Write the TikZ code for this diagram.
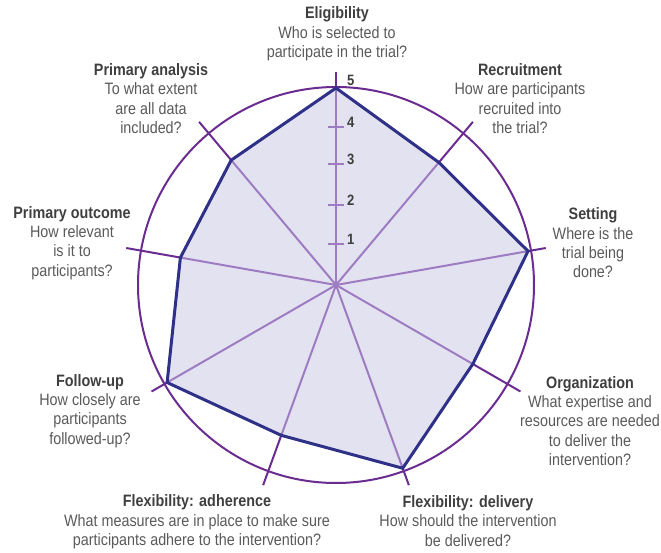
\documentclass[tikz,border=0pt]{standalone}
\usepackage{fontspec}
\setmainfont[FakeStretch=0.87]{Liberation Sans}
\definecolor{darkpurple}{HTML}{6B2C91}
\definecolor{lightpurple}{HTML}{9E7CC1}
\definecolor{navy}{HTML}{2E3187}
\definecolor{lavender}{HTML}{E3E2F0}
\definecolor{titlegray}{HTML}{3F3F3F}
\definecolor{textgray}{HTML}{5A5A5A}
\begin{document}
\begin{tikzpicture}[x=1pt,y=1pt,
  lbl/.style={align=center,inner sep=0pt,text=textgray,font=\fontsize{16.5}{19.4}\selectfont},
  outerspoke/.style={draw=darkpurple,line width=2pt},
  innerspoke/.style={draw=lightpurple,line width=2pt},
  ring/.style={draw=darkpurple,line width=2pt},
  tick/.style={draw=lightpurple,line width=1.6pt},
  num/.style={inner sep=0pt,text=titlegray,font=\fontsize{15}{15}\bfseries\selectfont}]
\useasboundingbox (-336,-267) rectangle (325,285);
\coordinate (c) at (0,0);
% spoke ends
\foreach \n/\a in {1/90,2/50,3/10,4/-30,5/-70,6/-110,7/-150,8/170,9/130}{
  \coordinate (e\n) at (\a:213);
}
% polygon vertices
\foreach \n/\a/\r in {1/90/197,2/50/160,3/10/195,4/-30/158,5/-70/195,6/-110/160,7/-150/195,8/170/158,9/130/163}{
  \coordinate (v\n) at (\a:\r);
}
\foreach \n in {1,...,9}{\draw[outerspoke] (c) -- (e\n);}
\fill[lavender] (v1) -- (v2) -- (v3) -- (v4) -- (v5) -- (v6) -- (v7) -- (v8) -- (v9) -- cycle;
\foreach \n in {1,...,9}{\draw[innerspoke] (c) -- (v\n);}
% ticks and numbers
\foreach \k/\r in {1/41,2/80,3/121,4/158}{
  \coordinate (t\k) at (0,\r);
  \draw[tick] ([xshift=-8pt]t\k) -- ([xshift=8pt]t\k);
  \node[num,anchor=west] (n\k) at ([xshift=11pt,yshift=5pt]t\k) {\k};
}
\coordinate (t5) at (0,197);
\node[num,anchor=west] (n5) at ([xshift=11pt,yshift=8pt]t5) {5};
\node[ring,circle,minimum size=396pt,inner sep=0pt] (ring) at (c) {};
\draw[navy,line width=3pt,line join=miter] (v1) -- (v2) -- (v3) -- (v4) -- (v5) -- (v6) -- (v7) -- (v8) -- (v9) -- cycle;
% labels
\node[lbl] (L1) at (1,251) {\textcolor{titlegray}{\bfseries Eligibility}\\Who is selected to\\participate in the trial?};
\node[lbl] (L2) at (184,186.5) {\textcolor{titlegray}{\bfseries Recruitment}\\How are participants\\recruited into\\the trial?};
\node[lbl] (L3) at (257,42) {\textcolor{titlegray}{\bfseries Setting}\\Where is the\\trial being\\done?};
\node[lbl] (L4) at (254,-136) {\textcolor{titlegray}{\bfseries Organization}\\What expertise and\\resources are needed\\to deliver the\\intervention?};
\node[lbl] (L5) at (132,-236) {\textcolor{titlegray}{\bfseries Flexibility: delivery}\\How should the intervention\\be delivered?};
\node[lbl] (L6) at (-139,-237) {\textcolor{titlegray}{\bfseries Flexibility: adherence}\\What measures are in place to make sure\\participants adhere to the intervention?};
\node[lbl] (L7) at (-246,-126) {\textcolor{titlegray}{\bfseries Follow-up}\\How closely are\\participants\\followed-up?};
\node[lbl] (L8) at (-264,42) {\textcolor{titlegray}{\bfseries Primary outcome}\\How relevant\\is it to\\participants?};
\node[lbl] (L9) at (-185,186.5) {\textcolor{titlegray}{\bfseries Primary analysis}\\To what extent\\are all data\\included?};
\end{tikzpicture}
\end{document}
